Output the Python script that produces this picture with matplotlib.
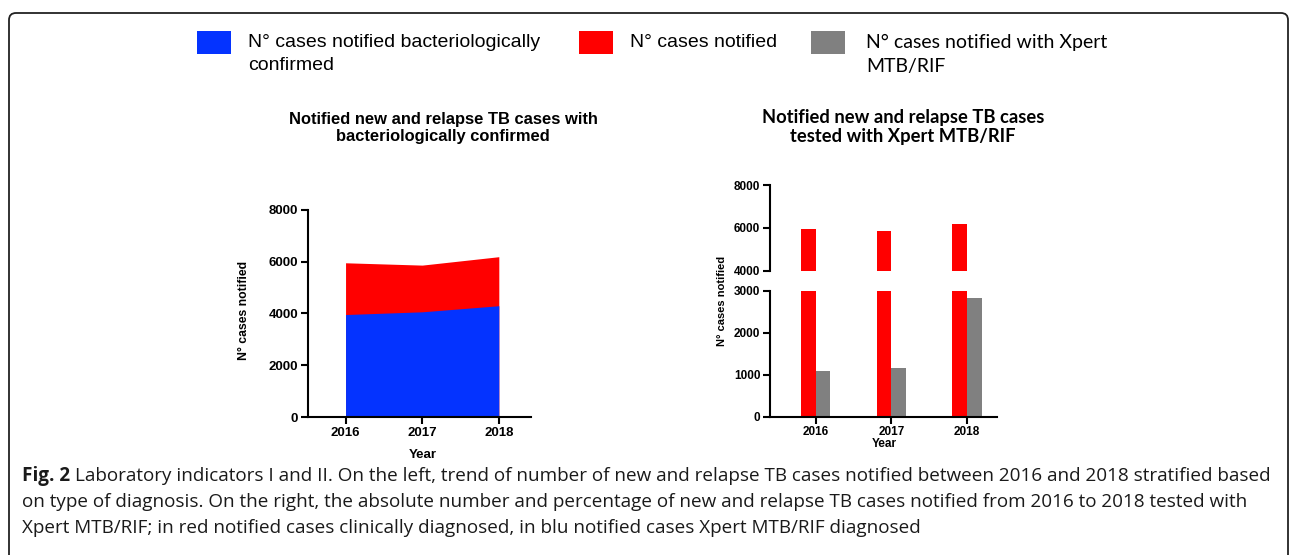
import matplotlib
matplotlib.use('Agg')
import matplotlib.pyplot as plt
import numpy as np
from matplotlib.patches import FancyBboxPatch, Rectangle
from matplotlib.transforms import IdentityTransform

# values
years = [2016, 2017, 2018]
bact_confirmed = [3960, 4065, 4300]
notified = [5960, 5870, 6195]
xpert_tested = [1095, 1150, 2835]

legend_labels = ['N° cases notified bacteriologically\nconfirmed',
                 'N° cases notified',
                 'N° cases notified with Xpert\nMTB/RIF']
title_left = 'Notified new and relapse TB cases with\nbacteriologically confirmed'
title_right = 'Notified new and relapse TB cases\ntested with Xpert MTB/RIF'
caption = ['Laboratory indicators I and II. On the left, trend of number of new and relapse TB cases notified between 2016 and 2018 stratified based',
           'on type of diagnosis. On the right, the absolute number and percentage of new and relapse TB cases notified from 2016 to 2018 tested with',
           'Xpert MTB/RIF; in red notified cases clinically diagnosed, in blu notified cases Xpert MTB/RIF diagnosed']

blue = '#0433ff'
red = '#ff0000'
grey = '#808080'
arial = 'Liberation Sans'

W, H = 1290, 555
fig = plt.figure(figsize=(12.9, 5.55), dpi=100)


def box(l, t, r, b):
    # pixel box (from top-left) -> figure fraction rect
    return [l / W, 1 - b / H, (r - l) / W, (b - t) / H]


def px(x, y):
    return x / W, 1 - y / H


def style_axis(ax, fs):
    for s in ['top', 'right']:
        ax.spines[s].set_visible(False)
    for s in ['left', 'bottom']:
        ax.spines[s].set_linewidth(1.5)
    ax.tick_params(direction='out', length=5, width=1.5, pad=2)
    for lab in ax.get_xticklabels() + ax.get_yticklabels():
        lab.set_fontfamily(arial)
        lab.set_fontweight('bold')
        lab.set_fontsize(fs)


# frame
frame = FancyBboxPatch((9, -20), 1279, H - 13 + 20,
                       boxstyle='round,pad=0,rounding_size=7',
                       transform=IdentityTransform(), fill=False,
                       ec='#222222', lw=1.3)
fig.add_artist(frame)

# legend
leg = [(197, 231, 248, blue, arial, 14), (579, 613, 630, red, arial, 14),
       (811, 845, 866, grey, 'Lato', 14)]
for (x0, x1, tx, c, fam, fs), lab in zip(leg, legend_labels):
    fig.add_artist(Rectangle(px(x0, 54), (x1 - x0) / W, 23 / H, transform=fig.transFigure,
                             color=c, lw=0))
    fig.text(*px(tx, 34), lab, fontsize=fs, family=fam,
             va='top', ha='left', linespacing=1.5)

# left chart: stacked areas
ax1 = fig.add_axes(box(308, 210, 531, 417))
ax1.fill_between(years, notified, color=red, lw=0)
ax1.fill_between(years, bact_confirmed, color=blue, lw=0)
ax1.set_xlim(2015.51, 2018.42)
ax1.set_ylim(0, 8000)
ax1.set_xticks(years)
ax1.set_yticks([0, 2000, 4000, 6000, 8000])
ax1.tick_params(axis='x', pad=8)
style_axis(ax1, 9.5)

fig.text(*px(443, 128), title_left, ha='center', va='center', family=arial,
         fontweight='bold', fontsize=11.9, linespacing=1.15)
fig.text(*px(244, 310), 'N° cases notified', rotation=90, ha='center', va='center',
         family=arial, fontweight='bold', fontsize=8.8)
fig.text(*px(423, 455), 'Year', ha='center', va='center', family=arial,
         fontweight='bold', fontsize=9.5)

# right chart: bars on a broken axis
x = np.arange(len(years))
w = 0.194
upper = fig.add_axes(box(770, 185.3, 997, 270.7))
lower = fig.add_axes(box(770, 290.7, 997, 416.7))
upper.bar(x - w / 2, notified, w, color=red)
lower.bar(x - w / 2, notified, w, color=red)
lower.bar(x + w / 2, xpert_tested, w, color=grey)
for ax in (upper, lower):
    ax.set_xlim(-0.604, 2.395)
upper.set_ylim(4000, 8000)
lower.set_ylim(0, 3000)
upper.set_yticks([4000, 6000, 8000])
lower.set_yticks([0, 1000, 2000, 3000])
upper.set_xticks([])
lower.set_xticks(x)
lower.set_xticklabels([str(y) for y in years])
style_axis(upper, 8.5)
style_axis(lower, 8.5)
upper.spines['bottom'].set_visible(False)

fig.text(*px(903, 127), title_right, ha='center', va='center', family='Lato',
         fontweight='bold', fontsize=13.2, linespacing=1.2)
fig.text(*px(722, 301), 'N° cases notified', rotation=90, ha='center', va='center',
         family=arial, fontweight='bold', fontsize=8)
fig.text(*px(884, 444), 'Year', ha='center', va='center', family=arial,
         fontweight='bold', fontsize=8.5)

# caption
cap_y = [476, 502, 528]
cap_fs = 13.6
fig.canvas.draw()
r = fig.canvas.get_renderer()
fb = fig.text(*px(22, cap_y[0]), 'Fig. 2', family='Open Sans', fontweight='bold',
              fontsize=cap_fs, va='center', ha='left', color='#1a1a1a')
bb = fb.get_window_extent(r)
fig.text((bb.x1 + 5) / W, 1 - cap_y[0] / H, caption[0], family='Open Sans',
         fontsize=cap_fs, va='center', ha='left', color='#1a1a1a')
for yy, line in zip(cap_y[1:], caption[1:]):
    fig.text(*px(22, yy), line, family='Open Sans', fontsize=cap_fs, va='center',
             ha='left', color='#1a1a1a')

fig.savefig('out.png', dpi=100)
